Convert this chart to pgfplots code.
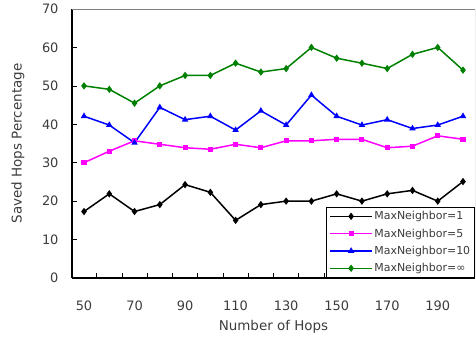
\documentclass[border=0pt]{standalone}
\usepackage{fontspec}
\setmainfont{DejaVu Sans}
\usepackage{pgfplots}
\pgfplotsset{compat=1.18}
\definecolor{txt}{RGB}{60,60,60}
\definecolor{cgreen}{RGB}{0,128,0}
\definecolor{cblue}{RGB}{0,0,255}
\definecolor{cmag}{RGB}{255,0,255}
\begin{document}
\begin{tikzpicture}
\begin{axis}[
  scale only axis, width=403bp, height=269bp,
  xmin=45.25, xmax=204.75, ymin=0, ymax=70,
  axis x line*=bottom, axis y line*=left,
  axis line style={black, line width=1.1bp, -},
  tick align=inside,
  xtick={50,70,...,190},
  major x tick style={draw=none},
  minor xtick={55,65,...,195},
  minor tick length=5bp,
  minor x tick style={black, line width=0.6bp},
  ytick={0,10,...,70},
  major tick length=5bp,
  major y tick style={black, line width=0.6bp},
  /pgf/number format/assume math mode=true,
  ticklabel style={font=\fontsize{13}{15}\selectfont, text=txt},
  yticklabel style={xshift=-10bp},
  xticklabel style={yshift=-19bp},
  xlabel={Number of Hops},
  ylabel={Saved Hops\,\,Percentage},
  label style={font=\fontsize{13.5}{16}\selectfont, text=txt},
  xlabel style={at={(axis description cs:0.5,-0.18)}, anchor=center},
  ylabel style={at={(axis description cs:-0.134,0.5)}, anchor=center, rotate=0},
  legend style={at={(rel axis cs:1,0)}, anchor=south east, draw=black, line width=0.6bp,
    font=\fontsize{11}{13}\selectfont, text=txt, row sep=4.5bp, inner sep=3bp,
    nodes={inner sep=1.5bp},
    cells={anchor=west}},
  legend image code/.code={\draw[line width=1.5bp, mark repeat=2,mark phase=2] plot coordinates {(0bp,0bp) (21bp,0bp) (42bp,0bp)};},
  every axis plot/.append style={line width=1.5bp},
]
\draw[gray, line width=0.8bp] (rel axis cs:0,1) -- (rel axis cs:1,1) -- (rel axis cs:1,0);
\addplot[black, mark=diamond*, mark size=2.5bp] coordinates {
(50,17.3) (60,21.9) (70,17.3) (80,19.1) (90,24.3) (100,22.3) (110,15.0) (120,19.1)
(130,20.0) (140,20.0) (150,21.9) (160,20.0) (170,21.9) (180,22.8) (190,20.0) (200,25.1)};
\addlegendentry{MaxNeighbor=1}
\addplot[cmag, mark=square*, mark size=1.8bp] coordinates {
(50,30.0) (60,33.0) (70,35.7) (80,34.8) (90,33.9) (100,33.5) (110,34.8) (120,33.9)
(130,35.7) (140,35.7) (150,36.1) (160,36.1) (170,33.9) (180,34.3) (190,37.0) (200,36.1)};
\addlegendentry{MaxNeighbor=5}
\addplot[cblue, mark=triangle*, mark size=2.3bp] coordinates {
(50,42.1) (60,39.8) (70,35.2) (80,44.4) (90,41.2) (100,42.1) (110,38.5) (120,43.5)
(130,39.8) (140,47.6) (150,42.1) (160,39.8) (170,41.2) (180,38.9) (190,39.8) (200,42.1)};
\addlegendentry{MaxNeighbor=10}
\addplot[cgreen, mark=diamond*, mark size=2.5bp] coordinates {
(50,50.0) (60,49.1) (70,45.5) (80,50.0) (90,52.7) (100,52.7) (110,55.9) (120,53.6)
(130,54.5) (140,60.0) (150,57.2) (160,55.9) (170,54.5) (180,58.2) (190,60.0) (200,54.1)};
\addlegendentry{MaxNeighbor=∞}
\end{axis}
\pgfresetboundingbox
\path[use as bounding box] (-72bp,-60bp) rectangle (404bp,278bp);
\end{tikzpicture}
\end{document}
